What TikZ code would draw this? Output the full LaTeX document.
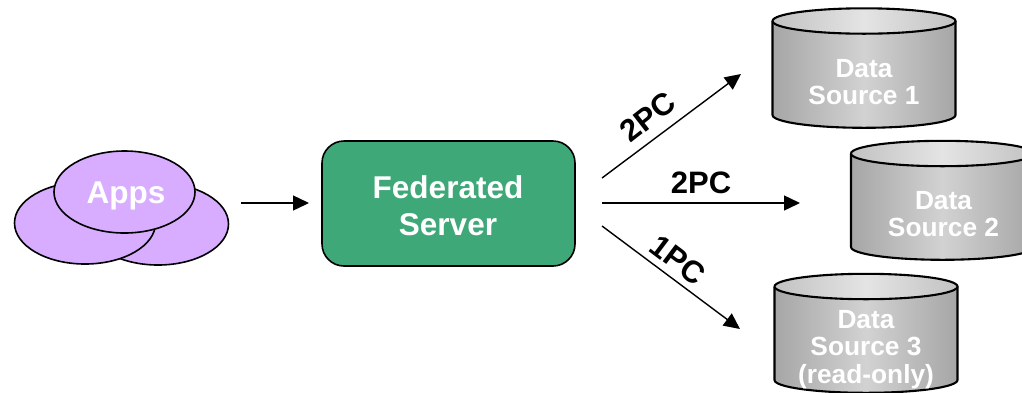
\documentclass[tikz,border=0pt]{standalone}
\usepackage{fontspec}
\setmainfont{Liberation Sans}
\usetikzlibrary{arrows.meta,shapes.geometric}
\definecolor{appfill}{HTML}{D8ADFF}
\definecolor{srvfill}{HTML}{3FA878}
\definecolor{cylside}{HTML}{A6A6A6}
\definecolor{cylmid}{HTML}{D2D2D2}
\definecolor{cyltopedge}{HTML}{C2C2C2}
\definecolor{cyltopmid}{HTML}{E4E4E4}
\tikzset{
  appshape/.style={ellipse,draw=black,line width=1.6pt,fill=appfill,minimum width=141pt,minimum height=82pt,inner sep=0pt},
  srvshape/.style={rectangle,rounded corners=22pt,draw=black,line width=1.6pt,fill=srvfill,minimum width=253pt,minimum height=125pt,inner sep=0pt},
  arrowline/.style={draw=black,line width=1.4pt,-{Triangle[length=16pt,width=15pt]}},
  bigtxt/.style={text=white,font=\fontsize{31.5}{37}\selectfont\bfseries,align=center},
  flowtxt/.style={text=black,font=\fontsize{31}{35}\selectfont\bfseries,inner sep=0pt},
  dstxt/.style={text=white,font=\fontsize{26.3}{27.5}\selectfont\bfseries,align=center,inner sep=0pt},
  cylbody/.style={left color=cylside,right color=cylside,middle color=cylmid},
  cyltop/.style={left color=cyltopedge,right color=cyltopedge,middle color=cyltopmid},
  cylline/.style={draw=black,line width=2.1pt,line join=round}
}
% #1 left x, #2 right x, #3 top centre y, #4 bottom centre y
\newcommand{\dbcyl}[4]{%
  \pgfmathsetmacro{\cylcx}{(#1+#2)/2}%
  \pgfmathsetmacro{\cylrx}{(#2-#1)/2}%
  \path[cylbody] (#1,#3) -- (#1,#4) arc[start angle=180,end angle=360,x radius=\cylrx pt,y radius=12.8pt] -- (#2,#3) -- cycle;
  \draw[cylline] (#1,#3) -- (#1,#4) arc[start angle=180,end angle=360,x radius=\cylrx pt,y radius=12.8pt] -- (#2,#3);
  \path[cylline,cyltop] (\cylcx,#3) ellipse[x radius=\cylrx pt,y radius=12.7pt];
}
\begin{document}
\begin{tikzpicture}[x=1pt,y=-1pt]
\useasboundingbox (0,0) rectangle (1022,392);
\clip (0,0) rectangle (1022,392);
% apps
\node[appshape] (appr) at (158,224) {};
\node[appshape] (appl) at (85,223) {};
\node[appshape,text=white,font=\fontsize{31.5}{36}\selectfont\bfseries] (apps) at (124.5,192) {};
\node[text=white,font=\fontsize{31.5}{36}\selectfont\bfseries,inner sep=0pt] (appstxt) at (126,196) {Apps};
% server
\node[srvshape,bigtxt] (srv) at (448.5,203.5) {};
\node[bigtxt,inner sep=0pt] (srvtxt) at (448,205.5) {Federated\\Server};
% cylinders
\dbcyl{772.5}{955.5}{21}{115}
\dbcyl{851}{1034}{153.5}{247}
\dbcyl{774.5}{957.5}{286.5}{380}
\node[dstxt] (ds1) at (864,82) {Data\\Source 1};
\node[dstxt] (ds2) at (943.5,214) {Data\\Source 2};
\node[dstxt] (ds3) at (866,349.5) {Data\\Source 3\\(read-only)};
% connectors
\coordinate (a0) at (241,203);
\coordinate (a1) at (309,203);
\coordinate (s1) at (602,178);
\coordinate (e1) at (741,74);
\coordinate (s2) at (602,203);
\coordinate (e2) at (800,203);
\coordinate (s3) at (602,226);
\coordinate (e3) at (740,329);
\draw[arrowline] (a0) -- (a1);
\draw[arrowline] (s1) -- (e1);
\draw[arrowline] (s2) -- (e2);
\draw[arrowline] (s3) -- (e3);
\node[flowtxt,rotate=38] (l1) at (648,117) {2PC};
\node[flowtxt] (l2) at (701,183) {2PC};
\node[flowtxt,rotate=-37] (l3) at (678,260) {1PC};
\end{tikzpicture}
\end{document}
